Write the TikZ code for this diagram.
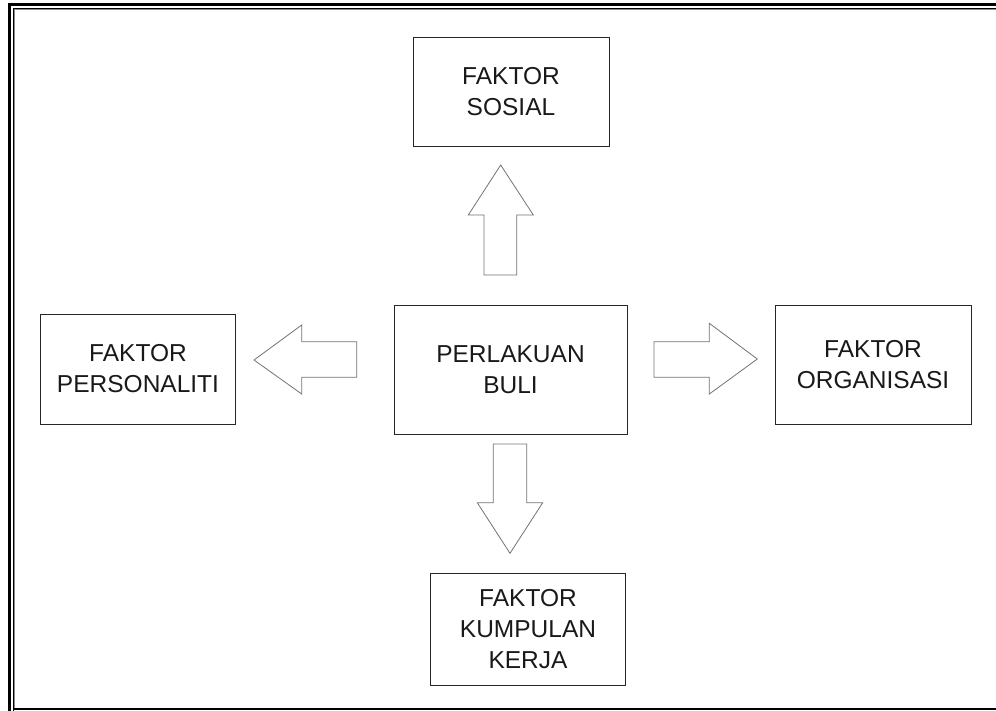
\documentclass[tikz,border=0pt]{standalone}
\usepackage{fontspec}
\setmainfont{Liberation Sans}
\begin{document}
\begin{tikzpicture}[x=1pt,y=-1pt,
  box/.style={draw=black!85,line width=0.9pt,align=center,inner sep=0pt,
    font=\fontsize{24.5}{31}\selectfont,text=black!90},
  blockarrow/.style={draw=black!55,line width=0.8pt,line join=miter,fill=white}]
\useasboundingbox (0,0) rectangle (996,710);
% frame
\draw[line width=2.6pt] (9.5,1200) -- (9.5,4.5) -- (1200,4.5);
\draw[line width=0.9pt] (13,1200) -- (13,8.3) -- (1200,8.3);
\draw[line width=0.7pt,black!45] (14.6,709) -- (14.6,9.8) -- (1200,9.8);
\draw[line width=1.4pt] (13,709) -- (1200,709);
% boxes
\node[box,minimum width=196pt,minimum height=109pt] (sosial) at (511,91.5) {FAKTOR\\SOSIAL};
\node[box,minimum width=233pt,minimum height=129pt] (buli) at (510.5,369.5) {PERLAKUAN\\BULI};
\node[box,minimum width=194.5pt,minimum height=110pt] (personaliti) at (138,369) {FAKTOR\\PERSONALITI};
\node[box,minimum width=196pt,minimum height=119pt] (organisasi) at (873,364.5) {FAKTOR\\ORGANISASI};
\node[box,minimum width=194.5pt,minimum height=112pt] (kumpulan) at (528,629) {FAKTOR\\KUMPULAN\\KERJA};
% block arrows
\draw[blockarrow] (484,275) -- (484,215) -- (468.3,215) -- (500.7,165) -- (533.3,215) -- (516.7,215) -- (516.7,275) -- cycle;
\draw[blockarrow] (356.7,341.7) -- (301.7,341.7) -- (301.7,325) -- (254,360) -- (301.7,394) -- (301.7,377.3) -- (356.7,377.3) -- cycle;
\draw[blockarrow] (654,341.7) -- (709.3,341.7) -- (709.3,323.3) -- (757.3,359) -- (709.3,394) -- (709.3,377.3) -- (654,377.3) -- cycle;
\draw[blockarrow] (493.3,444) -- (526.7,444) -- (526.7,502.7) -- (542.7,502.7) -- (510,553.3) -- (477.3,502.7) -- (493.3,502.7) -- cycle;
\end{tikzpicture}
\end{document}
